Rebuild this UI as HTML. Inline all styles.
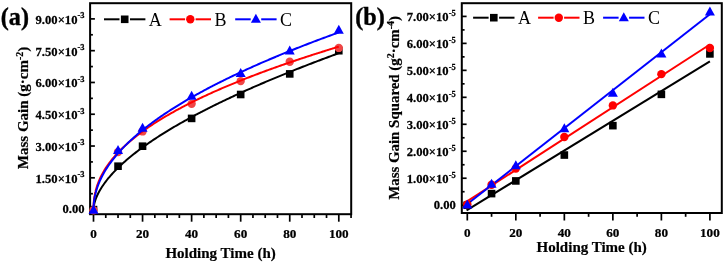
<!DOCTYPE html>
<html><head><meta charset="utf-8"><style>
html,body{margin:0;padding:0;background:#fff;}
svg{display:block;will-change:transform;}
</style></head><body>
<svg width="724" height="264" viewBox="0 0 724 264">
<rect width="724" height="264" fill="#fff"/>
<rect x="90.1" y="3.2" width="261.1" height="211.0" fill="none" stroke="#000" stroke-width="2.0"/>
<line x1="93.50" y1="214.2" x2="93.50" y2="221.7" stroke="#000" stroke-width="1.7"/>
<line x1="105.77" y1="214.2" x2="105.77" y2="218.0" stroke="#000" stroke-width="1.7"/>
<line x1="118.03" y1="214.2" x2="118.03" y2="218.0" stroke="#000" stroke-width="1.7"/>
<line x1="130.29" y1="214.2" x2="130.29" y2="218.0" stroke="#000" stroke-width="1.7"/>
<line x1="142.56" y1="214.2" x2="142.56" y2="221.7" stroke="#000" stroke-width="1.7"/>
<line x1="154.82" y1="214.2" x2="154.82" y2="218.0" stroke="#000" stroke-width="1.7"/>
<line x1="167.09" y1="214.2" x2="167.09" y2="218.0" stroke="#000" stroke-width="1.7"/>
<line x1="179.35" y1="214.2" x2="179.35" y2="218.0" stroke="#000" stroke-width="1.7"/>
<line x1="191.62" y1="214.2" x2="191.62" y2="221.7" stroke="#000" stroke-width="1.7"/>
<line x1="203.88" y1="214.2" x2="203.88" y2="218.0" stroke="#000" stroke-width="1.7"/>
<line x1="216.15" y1="214.2" x2="216.15" y2="218.0" stroke="#000" stroke-width="1.7"/>
<line x1="228.41" y1="214.2" x2="228.41" y2="218.0" stroke="#000" stroke-width="1.7"/>
<line x1="240.68" y1="214.2" x2="240.68" y2="221.7" stroke="#000" stroke-width="1.7"/>
<line x1="252.94" y1="214.2" x2="252.94" y2="218.0" stroke="#000" stroke-width="1.7"/>
<line x1="265.21" y1="214.2" x2="265.21" y2="218.0" stroke="#000" stroke-width="1.7"/>
<line x1="277.48" y1="214.2" x2="277.48" y2="218.0" stroke="#000" stroke-width="1.7"/>
<line x1="289.74" y1="214.2" x2="289.74" y2="221.7" stroke="#000" stroke-width="1.7"/>
<line x1="302.00" y1="214.2" x2="302.00" y2="218.0" stroke="#000" stroke-width="1.7"/>
<line x1="314.27" y1="214.2" x2="314.27" y2="218.0" stroke="#000" stroke-width="1.7"/>
<line x1="326.53" y1="214.2" x2="326.53" y2="218.0" stroke="#000" stroke-width="1.7"/>
<line x1="338.80" y1="214.2" x2="338.80" y2="221.7" stroke="#000" stroke-width="1.7"/>
<line x1="351.06" y1="214.2" x2="351.06" y2="218.0" stroke="#000" stroke-width="1.7"/>
<line x1="90.1" y1="209.60" x2="94.89999999999999" y2="209.60" stroke="#000" stroke-width="1.7"/>
<line x1="90.1" y1="193.71" x2="92.89999999999999" y2="193.71" stroke="#000" stroke-width="1.7"/>
<line x1="90.1" y1="177.81" x2="94.89999999999999" y2="177.81" stroke="#000" stroke-width="1.7"/>
<line x1="90.1" y1="161.92" x2="92.89999999999999" y2="161.92" stroke="#000" stroke-width="1.7"/>
<line x1="90.1" y1="146.03" x2="94.89999999999999" y2="146.03" stroke="#000" stroke-width="1.7"/>
<line x1="90.1" y1="130.14" x2="92.89999999999999" y2="130.14" stroke="#000" stroke-width="1.7"/>
<line x1="90.1" y1="114.24" x2="94.89999999999999" y2="114.24" stroke="#000" stroke-width="1.7"/>
<line x1="90.1" y1="98.35" x2="92.89999999999999" y2="98.35" stroke="#000" stroke-width="1.7"/>
<line x1="90.1" y1="82.46" x2="94.89999999999999" y2="82.46" stroke="#000" stroke-width="1.7"/>
<line x1="90.1" y1="66.57" x2="92.89999999999999" y2="66.57" stroke="#000" stroke-width="1.7"/>
<line x1="90.1" y1="50.67" x2="94.89999999999999" y2="50.67" stroke="#000" stroke-width="1.7"/>
<line x1="90.1" y1="34.78" x2="92.89999999999999" y2="34.78" stroke="#000" stroke-width="1.7"/>
<line x1="90.1" y1="18.89" x2="94.89999999999999" y2="18.89" stroke="#000" stroke-width="1.7"/>
<text transform="translate(93.50,238.20) scale(0.99,1)" text-anchor="middle" font-family="Liberation Serif" font-weight="bold" font-size="13.3" stroke="#000" stroke-width="0.25">0</text>
<text transform="translate(142.56,238.20) scale(0.99,1)" text-anchor="middle" font-family="Liberation Serif" font-weight="bold" font-size="13.3" stroke="#000" stroke-width="0.25">20</text>
<text transform="translate(191.62,238.20) scale(0.99,1)" text-anchor="middle" font-family="Liberation Serif" font-weight="bold" font-size="13.3" stroke="#000" stroke-width="0.25">40</text>
<text transform="translate(240.68,238.20) scale(0.99,1)" text-anchor="middle" font-family="Liberation Serif" font-weight="bold" font-size="13.3" stroke="#000" stroke-width="0.25">60</text>
<text transform="translate(289.74,238.20) scale(0.99,1)" text-anchor="middle" font-family="Liberation Serif" font-weight="bold" font-size="13.3" stroke="#000" stroke-width="0.25">80</text>
<text transform="translate(338.80,238.20) scale(0.99,1)" text-anchor="middle" font-family="Liberation Serif" font-weight="bold" font-size="13.3" stroke="#000" stroke-width="0.25">100</text>
<text transform="translate(84.60,213.30) scale(0.95,1)" text-anchor="end" font-family="Liberation Serif" font-weight="bold" font-size="13.3" stroke="#000" stroke-width="0.25">0.00</text>
<text transform="translate(84.60,182.72) scale(0.95,1)" text-anchor="end" font-family="Liberation Serif" font-weight="bold" font-size="13.3" stroke="#000" stroke-width="0.25">1.50×10<tspan dy="-5.6" font-size="9">-3</tspan></text>
<text transform="translate(84.60,150.93) scale(0.95,1)" text-anchor="end" font-family="Liberation Serif" font-weight="bold" font-size="13.3" stroke="#000" stroke-width="0.25">3.00×10<tspan dy="-5.6" font-size="9">-3</tspan></text>
<text transform="translate(84.60,119.14) scale(0.95,1)" text-anchor="end" font-family="Liberation Serif" font-weight="bold" font-size="13.3" stroke="#000" stroke-width="0.25">4.50×10<tspan dy="-5.6" font-size="9">-3</tspan></text>
<text transform="translate(84.60,87.36) scale(0.95,1)" text-anchor="end" font-family="Liberation Serif" font-weight="bold" font-size="13.3" stroke="#000" stroke-width="0.25">6.00×10<tspan dy="-5.6" font-size="9">-3</tspan></text>
<text transform="translate(84.60,55.57) scale(0.95,1)" text-anchor="end" font-family="Liberation Serif" font-weight="bold" font-size="13.3" stroke="#000" stroke-width="0.25">7.50×10<tspan dy="-5.6" font-size="9">-3</tspan></text>
<text transform="translate(84.60,23.79) scale(0.95,1)" text-anchor="end" font-family="Liberation Serif" font-weight="bold" font-size="13.3" stroke="#000" stroke-width="0.25">9.00×10<tspan dy="-5.6" font-size="9">-3</tspan></text>
<text x="220.6" y="258.3" text-anchor="middle" font-family="Liberation Serif" font-weight="bold" font-size="15" stroke="#000" stroke-width="0.2">Holding Time (h)</text>
<text transform="translate(27.9,107.9) rotate(-90)" x="0" y="0" text-anchor="middle" font-family="Liberation Serif" font-weight="bold" font-size="15" stroke="#000" stroke-width="0.2">Mass Gain (g·cm<tspan dy="-5" font-size="10">-2</tspan><tspan dy="5">)</tspan></text>
<text transform="translate(0.8,24.5) scale(0.93,1)" x="0" y="0" font-family="Liberation Serif" font-weight="bold" font-size="26" stroke="#000" stroke-width="0.4">(a)</text>
<rect x="89.70" y="205.80" width="7.6" height="7.6" fill="#000"/>
<rect x="114.23" y="162.40" width="7.6" height="7.6" fill="#000"/>
<rect x="138.76" y="142.40" width="7.6" height="7.6" fill="#000"/>
<rect x="187.82" y="114.60" width="7.6" height="7.6" fill="#000"/>
<rect x="236.88" y="90.70" width="7.6" height="7.6" fill="#000"/>
<rect x="285.94" y="70.10" width="7.6" height="7.6" fill="#000"/>
<rect x="335.00" y="46.92" width="7.6" height="7.6" fill="#000"/>
<polyline points="93.50,209.60 93.56,208.23 93.63,207.57 93.69,207.03 93.75,206.57 93.81,206.16 93.88,205.78 93.94,205.43 94.00,205.10 94.07,204.78 94.13,204.48 94.19,204.19 94.25,203.92 94.32,203.65 94.38,203.39 94.44,203.14 94.51,202.90 94.57,202.66 94.63,202.43 94.70,202.21 94.76,201.99 94.82,201.77 94.88,201.56 94.95,201.35 95.01,201.15 95.07,200.95 95.14,200.75 95.20,200.56 95.26,200.37 95.32,200.18 95.39,199.99 95.45,199.81 95.51,199.63 95.58,199.45 95.64,199.28 95.70,199.11 95.76,198.93 95.83,198.77 95.89,198.60 95.95,198.43 95.95,198.43 97.17,195.53 98.39,193.01 99.61,190.75 100.83,188.68 102.05,186.75 103.28,184.94 104.50,183.22 105.72,181.57 106.94,180.00 108.16,178.49 109.38,177.03 110.60,175.62 111.82,174.25 113.04,172.92 114.26,171.62 115.48,170.36 116.70,169.12 117.92,167.92 119.14,166.73 120.36,165.58 121.58,164.44 122.80,163.33 124.02,162.23 125.24,161.15 126.46,160.10 127.68,159.05 128.90,158.03 130.12,157.01 131.34,156.02 132.56,155.03 133.78,154.06 135.00,153.10 136.22,152.16 137.44,151.22 138.66,150.30 139.89,149.39 141.11,148.48 142.33,147.59 143.55,146.71 144.77,145.83 145.99,144.97 147.21,144.11 148.43,143.26 149.65,142.42 150.87,141.59 152.09,140.76 153.31,139.94 154.53,139.13 155.75,138.33 156.97,137.53 158.19,136.74 159.41,135.95 160.63,135.18 161.85,134.40 163.07,133.64 164.29,132.88 165.51,132.12 166.73,131.37 167.95,130.63 169.17,129.89 170.39,129.15 171.61,128.42 172.83,127.70 174.05,126.98 175.27,126.26 176.50,125.55 177.72,124.85 178.94,124.14 180.16,123.45 181.38,122.75 182.60,122.06 183.82,121.38 185.04,120.70 186.26,120.02 187.48,119.35 188.70,118.68 189.92,118.01 191.14,117.35 192.36,116.69 193.58,116.03 194.80,115.38 196.02,114.73 197.24,114.09 198.46,113.44 199.68,112.80 200.90,112.17 202.12,111.53 203.34,110.90 204.56,110.28 205.78,109.65 207.00,109.03 208.22,108.41 209.44,107.80 210.66,107.19 211.88,106.58 213.11,105.97 214.33,105.36 215.55,104.76 216.77,104.16 217.99,103.56 219.21,102.97 220.43,102.38 221.65,101.79 222.87,101.20 224.09,100.62 225.31,100.03 226.53,99.45 227.75,98.88 228.97,98.30 230.19,97.73 231.41,97.15 232.63,96.59 233.85,96.02 235.07,95.45 236.29,94.89 237.51,94.33 238.73,93.77 239.95,93.21 241.17,92.66 242.39,92.11 243.61,91.55 244.83,91.01 246.05,90.46 247.27,89.91 248.50,89.37 249.72,88.83 250.94,88.29 252.16,87.75 253.38,87.21 254.60,86.68 255.82,86.15 257.04,85.61 258.26,85.08 259.48,84.56 260.70,84.03 261.92,83.51 263.14,82.98 264.36,82.46 265.58,81.94 266.80,81.42 268.02,80.91 269.24,80.39 270.46,79.88 271.68,79.37 272.90,78.86 274.12,78.35 275.34,77.84 276.56,77.33 277.78,76.83 279.00,76.33 280.22,75.82 281.44,75.32 282.66,74.82 283.88,74.33 285.11,73.83 286.33,73.34 287.55,72.84 288.77,72.35 289.99,71.86 291.21,71.37 292.43,70.88 293.65,70.39 294.87,69.91 296.09,69.42 297.31,68.94 298.53,68.46 299.75,67.98 300.97,67.50 302.19,67.02 303.41,66.54 304.63,66.06 305.85,65.59 307.07,65.12 308.29,64.64 309.51,64.17 310.73,63.70 311.95,63.23 313.17,62.76 314.39,62.30 315.61,61.83 316.83,61.37 318.05,60.90 319.27,60.44 320.49,59.98 321.72,59.52 322.94,59.06 324.16,58.60 325.38,58.14 326.60,57.69 327.82,57.23 329.04,56.78 330.26,56.32 331.48,55.87 332.70,55.42 333.92,54.97 335.14,54.52 336.36,54.07 337.58,53.62 338.80,53.18" fill="none" stroke="#000" stroke-width="2"/>
<circle cx="93.50" cy="210.24" r="4.2" fill="#ef4646"/>
<circle cx="118.03" cy="152.09" r="4.2" fill="#ef4646"/>
<circle cx="142.56" cy="131.41" r="4.2" fill="#ef4646"/>
<circle cx="191.62" cy="103.86" r="4.2" fill="#ef4646"/>
<circle cx="240.68" cy="81.10" r="4.2" fill="#ef4646"/>
<circle cx="289.74" cy="61.69" r="4.2" fill="#ef4646"/>
<circle cx="338.80" cy="47.92" r="4.2" fill="#ef4646"/>
<polyline points="93.50,209.60 93.56,205.86 93.63,204.46 93.69,203.42 93.75,202.55 93.81,201.80 93.88,201.12 93.94,200.50 94.00,199.93 94.07,199.40 94.13,198.90 94.19,198.42 94.25,197.97 94.32,197.53 94.38,197.12 94.44,196.72 94.51,196.33 94.57,195.96 94.63,195.60 94.70,195.25 94.76,194.91 94.82,194.58 94.88,194.26 94.95,193.94 95.01,193.64 95.07,193.34 95.14,193.04 95.20,192.76 95.26,192.47 95.32,192.20 95.39,191.93 95.45,191.66 95.51,191.40 95.58,191.14 95.64,190.89 95.70,190.64 95.76,190.39 95.83,190.15 95.89,189.91 95.95,189.68 95.95,189.68 97.17,185.65 98.39,182.30 99.61,179.38 100.83,176.76 102.05,174.37 103.28,172.16 104.50,170.10 105.72,168.15 106.94,166.31 108.16,164.56 109.38,162.89 110.60,161.28 111.82,159.74 113.04,158.25 114.26,156.81 115.48,155.41 116.70,154.06 117.92,152.74 119.14,151.47 120.36,150.22 121.58,149.00 122.80,147.81 124.02,146.65 125.24,145.52 126.46,144.40 127.68,143.31 128.90,142.24 130.12,141.19 131.34,140.16 132.56,139.15 133.78,138.15 135.00,137.17 136.22,136.21 137.44,135.26 138.66,134.33 139.89,133.40 141.11,132.50 142.33,131.60 143.55,130.72 144.77,129.84 145.99,128.98 147.21,128.13 148.43,127.29 149.65,126.46 150.87,125.64 152.09,124.83 153.31,124.03 154.53,123.24 155.75,122.46 156.97,121.68 158.19,120.91 159.41,120.15 160.63,119.40 161.85,118.66 163.07,117.92 164.29,117.19 165.51,116.47 166.73,115.75 167.95,115.04 169.17,114.33 170.39,113.64 171.61,112.94 172.83,112.26 174.05,111.58 175.27,110.90 176.50,110.23 177.72,109.57 178.94,108.91 180.16,108.26 181.38,107.61 182.60,106.96 183.82,106.32 185.04,105.69 186.26,105.06 187.48,104.43 188.70,103.81 189.92,103.20 191.14,102.58 192.36,101.98 193.58,101.37 194.80,100.77 196.02,100.18 197.24,99.58 198.46,98.99 199.68,98.41 200.90,97.83 202.12,97.25 203.34,96.68 204.56,96.11 205.78,95.54 207.00,94.97 208.22,94.41 209.44,93.86 210.66,93.30 211.88,92.75 213.11,92.20 214.33,91.66 215.55,91.11 216.77,90.58 217.99,90.04 219.21,89.51 220.43,88.97 221.65,88.45 222.87,87.92 224.09,87.40 225.31,86.88 226.53,86.36 227.75,85.85 228.97,85.34 230.19,84.83 231.41,84.32 232.63,83.81 233.85,83.31 235.07,82.81 236.29,82.31 237.51,81.82 238.73,81.33 239.95,80.84 241.17,80.35 242.39,79.86 243.61,79.38 244.83,78.89 246.05,78.41 247.27,77.94 248.50,77.46 249.72,76.99 250.94,76.52 252.16,76.05 253.38,75.58 254.60,75.11 255.82,74.65 257.04,74.19 258.26,73.73 259.48,73.27 260.70,72.81 261.92,72.36 263.14,71.90 264.36,71.45 265.58,71.00 266.80,70.55 268.02,70.11 269.24,69.66 270.46,69.22 271.68,68.78 272.90,68.34 274.12,67.90 275.34,67.47 276.56,67.03 277.78,66.60 279.00,66.17 280.22,65.74 281.44,65.31 282.66,64.88 283.88,64.46 285.11,64.04 286.33,63.61 287.55,63.19 288.77,62.77 289.99,62.35 291.21,61.94 292.43,61.52 293.65,61.11 294.87,60.70 296.09,60.28 297.31,59.88 298.53,59.47 299.75,59.06 300.97,58.65 302.19,58.25 303.41,57.85 304.63,57.44 305.85,57.04 307.07,56.64 308.29,56.25 309.51,55.85 310.73,55.45 311.95,55.06 313.17,54.66 314.39,54.27 315.61,53.88 316.83,53.49 318.05,53.10 319.27,52.72 320.49,52.33 321.72,51.94 322.94,51.56 324.16,51.18 325.38,50.79 326.60,50.41 327.82,50.03 329.04,49.66 330.26,49.28 331.48,48.90 332.70,48.53 333.92,48.15 335.14,47.78 336.36,47.41 337.58,47.03 338.80,46.66" fill="none" stroke="#ff0000" stroke-width="2"/>
<path d="M93.50,204.68 L98.50,213.68 L88.50,213.68 Z" fill="#0000ff"/>
<path d="M118.03,145.05 L123.03,154.05 L113.03,154.05 Z" fill="#0000ff"/>
<path d="M142.56,122.82 L147.56,131.82 L137.56,131.82 Z" fill="#0000ff"/>
<path d="M191.62,90.67 L196.62,99.67 L186.62,99.67 Z" fill="#0000ff"/>
<path d="M240.68,67.89 L245.68,76.89 L235.68,76.89 Z" fill="#0000ff"/>
<path d="M289.74,45.54 L294.74,54.54 L284.74,54.54 Z" fill="#0000ff"/>
<path d="M338.80,24.77 L343.80,33.77 L333.80,33.77 Z" fill="#0000ff"/>
<polyline points="93.50,209.60 93.56,206.72 93.63,205.53 93.69,204.62 93.75,203.85 93.81,203.18 93.88,202.56 93.94,202.00 94.00,201.48 94.07,200.99 94.13,200.53 94.19,200.08 94.25,199.66 94.32,199.26 94.38,198.87 94.44,198.50 94.51,198.13 94.57,197.78 94.63,197.44 94.70,197.11 94.76,196.78 94.82,196.47 94.88,196.16 94.95,195.86 95.01,195.57 95.07,195.28 95.14,194.99 95.20,194.72 95.26,194.45 95.32,194.18 95.39,193.92 95.45,193.66 95.51,193.40 95.58,193.15 95.64,192.91 95.70,192.66 95.76,192.42 95.83,192.19 95.89,191.96 95.95,191.73 95.95,191.73 97.17,187.74 98.39,184.39 99.61,181.43 100.83,178.76 102.05,176.30 103.28,174.01 104.50,171.87 105.72,169.83 106.94,167.90 108.16,166.06 109.38,164.29 110.60,162.59 111.82,160.94 113.04,159.36 114.26,157.82 115.48,156.32 116.70,154.87 117.92,153.45 119.14,152.07 120.36,150.72 121.58,149.41 122.80,148.12 124.02,146.85 125.24,145.62 126.46,144.40 127.68,143.21 128.90,142.04 130.12,140.89 131.34,139.76 132.56,138.65 133.78,137.55 135.00,136.47 136.22,135.41 137.44,134.36 138.66,133.33 139.89,132.31 141.11,131.30 142.33,130.31 143.55,129.33 144.77,128.36 145.99,127.40 147.21,126.45 148.43,125.52 149.65,124.59 150.87,123.68 152.09,122.77 153.31,121.88 154.53,120.99 155.75,120.11 156.97,119.24 158.19,118.38 159.41,117.53 160.63,116.68 161.85,115.84 163.07,115.01 164.29,114.19 165.51,113.38 166.73,112.57 167.95,111.77 169.17,110.97 170.39,110.18 171.61,109.40 172.83,108.62 174.05,107.85 175.27,107.09 176.50,106.33 177.72,105.57 178.94,104.82 180.16,104.08 181.38,103.34 182.60,102.61 183.82,101.88 185.04,101.16 186.26,100.44 187.48,99.73 188.70,99.02 189.92,98.32 191.14,97.62 192.36,96.93 193.58,96.23 194.80,95.55 196.02,94.87 197.24,94.19 198.46,93.51 199.68,92.84 200.90,92.18 202.12,91.51 203.34,90.85 204.56,90.20 205.78,89.55 207.00,88.90 208.22,88.26 209.44,87.61 210.66,86.98 211.88,86.34 213.11,85.71 214.33,85.08 215.55,84.46 216.77,83.84 217.99,83.22 219.21,82.60 220.43,81.99 221.65,81.38 222.87,80.77 224.09,80.17 225.31,79.57 226.53,78.97 227.75,78.37 228.97,77.78 230.19,77.19 231.41,76.60 232.63,76.02 233.85,75.44 235.07,74.86 236.29,74.28 237.51,73.70 238.73,73.13 239.95,72.56 241.17,71.99 242.39,71.43 243.61,70.87 244.83,70.31 246.05,69.75 247.27,69.19 248.50,68.64 249.72,68.09 250.94,67.54 252.16,66.99 253.38,66.44 254.60,65.90 255.82,65.36 257.04,64.82 258.26,64.28 259.48,63.75 260.70,63.21 261.92,62.68 263.14,62.15 264.36,61.63 265.58,61.10 266.80,60.58 268.02,60.06 269.24,59.54 270.46,59.02 271.68,58.50 272.90,57.99 274.12,57.47 275.34,56.96 276.56,56.45 277.78,55.95 279.00,55.44 280.22,54.93 281.44,54.43 282.66,53.93 283.88,53.43 285.11,52.93 286.33,52.44 287.55,51.94 288.77,51.45 289.99,50.96 291.21,50.47 292.43,49.98 293.65,49.49 294.87,49.01 296.09,48.52 297.31,48.04 298.53,47.56 299.75,47.08 300.97,46.60 302.19,46.12 303.41,45.65 304.63,45.18 305.85,44.70 307.07,44.23 308.29,43.76 309.51,43.29 310.73,42.83 311.95,42.36 313.17,41.89 314.39,41.43 315.61,40.97 316.83,40.51 318.05,40.05 319.27,39.59 320.49,39.13 321.72,38.68 322.94,38.22 324.16,37.77 325.38,37.32 326.60,36.87 327.82,36.42 329.04,35.97 330.26,35.52 331.48,35.07 332.70,34.63 333.92,34.18 335.14,33.74 336.36,33.30 337.58,32.86 338.80,32.42" fill="none" stroke="#0000ff" stroke-width="2"/>
<line x1="104.0" y1="19.3" x2="119.5" y2="19.3" stroke="#000" stroke-width="2"/>
<line x1="130.0" y1="19.3" x2="145.4" y2="19.3" stroke="#000" stroke-width="2"/>
<rect x="120.90" y="15.50" width="7.6" height="7.6" fill="#000"/>
<text x="148.8" y="25.8" font-family="Liberation Serif" font-size="18">A</text>
<line x1="169.6" y1="19.3" x2="185.1" y2="19.3" stroke="#ff0000" stroke-width="2"/>
<line x1="195.6" y1="19.3" x2="211.0" y2="19.3" stroke="#ff0000" stroke-width="2"/>
<circle cx="190.30" cy="19.30" r="4.2" fill="#ff0000"/>
<text x="214.39999999999998" y="25.8" font-family="Liberation Serif" font-size="18">B</text>
<line x1="235.2" y1="19.3" x2="250.7" y2="19.3" stroke="#0000ff" stroke-width="2"/>
<line x1="261.2" y1="19.3" x2="276.59999999999997" y2="19.3" stroke="#0000ff" stroke-width="2"/>
<path d="M255.90,13.80 L260.90,22.80 L250.90,22.80 Z" fill="#0000ff"/>
<text x="280.0" y="25.8" font-family="Liberation Serif" font-size="18">C</text>
<rect x="461.8" y="3.2" width="259.99999999999994" height="209.8" fill="none" stroke="#000" stroke-width="2.0"/>
<line x1="467.30" y1="213.0" x2="467.30" y2="220.5" stroke="#000" stroke-width="1.7"/>
<line x1="491.56" y1="213.0" x2="491.56" y2="216.8" stroke="#000" stroke-width="1.7"/>
<line x1="515.82" y1="213.0" x2="515.82" y2="220.5" stroke="#000" stroke-width="1.7"/>
<line x1="540.08" y1="213.0" x2="540.08" y2="216.8" stroke="#000" stroke-width="1.7"/>
<line x1="564.34" y1="213.0" x2="564.34" y2="220.5" stroke="#000" stroke-width="1.7"/>
<line x1="588.60" y1="213.0" x2="588.60" y2="216.8" stroke="#000" stroke-width="1.7"/>
<line x1="612.86" y1="213.0" x2="612.86" y2="220.5" stroke="#000" stroke-width="1.7"/>
<line x1="637.12" y1="213.0" x2="637.12" y2="216.8" stroke="#000" stroke-width="1.7"/>
<line x1="661.38" y1="213.0" x2="661.38" y2="220.5" stroke="#000" stroke-width="1.7"/>
<line x1="685.64" y1="213.0" x2="685.64" y2="216.8" stroke="#000" stroke-width="1.7"/>
<line x1="709.90" y1="213.0" x2="709.90" y2="220.5" stroke="#000" stroke-width="1.7"/>
<line x1="461.8" y1="205.20" x2="466.6" y2="205.20" stroke="#000" stroke-width="1.7"/>
<line x1="461.8" y1="191.71" x2="464.6" y2="191.71" stroke="#000" stroke-width="1.7"/>
<line x1="461.8" y1="178.23" x2="466.6" y2="178.23" stroke="#000" stroke-width="1.7"/>
<line x1="461.8" y1="164.75" x2="464.6" y2="164.75" stroke="#000" stroke-width="1.7"/>
<line x1="461.8" y1="151.26" x2="466.6" y2="151.26" stroke="#000" stroke-width="1.7"/>
<line x1="461.8" y1="137.77" x2="464.6" y2="137.77" stroke="#000" stroke-width="1.7"/>
<line x1="461.8" y1="124.29" x2="466.6" y2="124.29" stroke="#000" stroke-width="1.7"/>
<line x1="461.8" y1="110.80" x2="464.6" y2="110.80" stroke="#000" stroke-width="1.7"/>
<line x1="461.8" y1="97.32" x2="466.6" y2="97.32" stroke="#000" stroke-width="1.7"/>
<line x1="461.8" y1="83.83" x2="464.6" y2="83.83" stroke="#000" stroke-width="1.7"/>
<line x1="461.8" y1="70.35" x2="466.6" y2="70.35" stroke="#000" stroke-width="1.7"/>
<line x1="461.8" y1="56.87" x2="464.6" y2="56.87" stroke="#000" stroke-width="1.7"/>
<line x1="461.8" y1="43.38" x2="466.6" y2="43.38" stroke="#000" stroke-width="1.7"/>
<line x1="461.8" y1="29.89" x2="464.6" y2="29.89" stroke="#000" stroke-width="1.7"/>
<line x1="461.8" y1="16.41" x2="466.6" y2="16.41" stroke="#000" stroke-width="1.7"/>
<text transform="translate(467.30,237.30) scale(0.99,1)" text-anchor="middle" font-family="Liberation Serif" font-weight="bold" font-size="13.3" stroke="#000" stroke-width="0.25">0</text>
<text transform="translate(515.82,237.30) scale(0.99,1)" text-anchor="middle" font-family="Liberation Serif" font-weight="bold" font-size="13.3" stroke="#000" stroke-width="0.25">20</text>
<text transform="translate(564.34,237.30) scale(0.99,1)" text-anchor="middle" font-family="Liberation Serif" font-weight="bold" font-size="13.3" stroke="#000" stroke-width="0.25">40</text>
<text transform="translate(612.86,237.30) scale(0.99,1)" text-anchor="middle" font-family="Liberation Serif" font-weight="bold" font-size="13.3" stroke="#000" stroke-width="0.25">60</text>
<text transform="translate(661.38,237.30) scale(0.99,1)" text-anchor="middle" font-family="Liberation Serif" font-weight="bold" font-size="13.3" stroke="#000" stroke-width="0.25">80</text>
<text transform="translate(709.90,237.30) scale(0.99,1)" text-anchor="middle" font-family="Liberation Serif" font-weight="bold" font-size="13.3" stroke="#000" stroke-width="0.25">100</text>
<text transform="translate(455.80,208.70) scale(0.95,1)" text-anchor="end" font-family="Liberation Serif" font-weight="bold" font-size="13.3" stroke="#000" stroke-width="0.25">0.00</text>
<text transform="translate(455.80,183.13) scale(0.95,1)" text-anchor="end" font-family="Liberation Serif" font-weight="bold" font-size="13.3" stroke="#000" stroke-width="0.25">1.00×10<tspan dy="-5.6" font-size="9">-5</tspan></text>
<text transform="translate(455.80,156.16) scale(0.95,1)" text-anchor="end" font-family="Liberation Serif" font-weight="bold" font-size="13.3" stroke="#000" stroke-width="0.25">2.00×10<tspan dy="-5.6" font-size="9">-5</tspan></text>
<text transform="translate(455.80,129.19) scale(0.95,1)" text-anchor="end" font-family="Liberation Serif" font-weight="bold" font-size="13.3" stroke="#000" stroke-width="0.25">3.00×10<tspan dy="-5.6" font-size="9">-5</tspan></text>
<text transform="translate(455.80,102.22) scale(0.95,1)" text-anchor="end" font-family="Liberation Serif" font-weight="bold" font-size="13.3" stroke="#000" stroke-width="0.25">4.00×10<tspan dy="-5.6" font-size="9">-5</tspan></text>
<text transform="translate(455.80,75.25) scale(0.95,1)" text-anchor="end" font-family="Liberation Serif" font-weight="bold" font-size="13.3" stroke="#000" stroke-width="0.25">5.00×10<tspan dy="-5.6" font-size="9">-5</tspan></text>
<text transform="translate(455.80,48.28) scale(0.95,1)" text-anchor="end" font-family="Liberation Serif" font-weight="bold" font-size="13.3" stroke="#000" stroke-width="0.25">6.00×10<tspan dy="-5.6" font-size="9">-5</tspan></text>
<text transform="translate(455.80,21.31) scale(0.95,1)" text-anchor="end" font-family="Liberation Serif" font-weight="bold" font-size="13.3" stroke="#000" stroke-width="0.25">7.00×10<tspan dy="-5.6" font-size="9">-5</tspan></text>
<text x="591.7" y="252.1" text-anchor="middle" font-family="Liberation Serif" font-weight="bold" font-size="15" stroke="#000" stroke-width="0.2">Holding Time (h)</text>
<text transform="translate(398.8,107.9) rotate(-90)" x="0" y="0" text-anchor="middle" font-family="Liberation Serif" font-weight="bold" font-size="14.9" stroke="#000" stroke-width="0.2">Mass Gain Squared (g<tspan dy="-5" font-size="10">2</tspan><tspan dy="5">·cm</tspan><tspan dy="-5" font-size="10">-4</tspan><tspan dy="5">)</tspan></text>
<text transform="translate(355.3,24.5) scale(0.93,1)" x="0" y="0" font-family="Liberation Serif" font-weight="bold" font-size="26" stroke="#000" stroke-width="0.4">(b)</text>
<clipPath id="cb"><rect x="462.8" y="4.2" width="257.99999999999994" height="207.8"/></clipPath>
<line x1="466.57" y1="210.33" x2="709.90" y2="61.32" stroke="#000" stroke-width="2" clip-path="url(#cb)"/>
<line x1="463.18" y1="203.94" x2="709.90" y2="44.5" stroke="#ff0000" stroke-width="2" clip-path="url(#cb)"/>
<line x1="463.18" y1="207.31" x2="709.90" y2="14.3" stroke="#0000ff" stroke-width="2" clip-path="url(#cb)"/>
<rect x="463.50" y="201.40" width="7.6" height="7.6" fill="#000"/>
<rect x="487.76" y="189.80" width="7.6" height="7.6" fill="#000"/>
<rect x="512.02" y="177.13" width="7.6" height="7.6" fill="#000"/>
<rect x="560.54" y="151.24" width="7.6" height="7.6" fill="#000"/>
<rect x="609.06" y="121.84" width="7.6" height="7.6" fill="#000"/>
<rect x="657.58" y="90.55" width="7.6" height="7.6" fill="#000"/>
<rect x="706.10" y="50.10" width="7.6" height="7.6" fill="#000"/>
<circle cx="467.30" cy="204.39" r="4.2" fill="#ff0000"/>
<circle cx="491.56" cy="184.70" r="4.2" fill="#ff0000"/>
<circle cx="515.82" cy="168.52" r="4.2" fill="#ff0000"/>
<circle cx="564.34" cy="136.97" r="4.2" fill="#ff0000"/>
<circle cx="612.86" cy="105.41" r="4.2" fill="#ff0000"/>
<circle cx="661.38" cy="74.13" r="4.2" fill="#ff0000"/>
<circle cx="709.90" cy="47.96" r="4.2" fill="#ff0000"/>
<path d="M467.30,199.49 L472.30,208.49 L462.30,208.49 Z" fill="#0000ff"/>
<path d="M491.56,178.85 L496.56,187.85 L486.56,187.85 Z" fill="#0000ff"/>
<path d="M515.82,160.25 L520.82,169.25 L510.82,169.25 Z" fill="#0000ff"/>
<path d="M564.34,123.30 L569.34,132.30 L559.34,132.30 Z" fill="#0000ff"/>
<path d="M612.86,87.70 L617.86,96.70 L607.86,96.70 Z" fill="#0000ff"/>
<path d="M661.38,48.59 L666.38,57.59 L656.38,57.59 Z" fill="#0000ff"/>
<path d="M709.90,6.52 L714.90,15.52 L704.90,15.52 Z" fill="#0000ff"/>
<line x1="473.1" y1="17.7" x2="488.6" y2="17.7" stroke="#000" stroke-width="2"/>
<line x1="499.1" y1="17.7" x2="514.5" y2="17.7" stroke="#000" stroke-width="2"/>
<rect x="490.00" y="13.90" width="7.6" height="7.6" fill="#000"/>
<text x="517.9" y="23.8" font-family="Liberation Serif" font-size="18">A</text>
<line x1="538.1" y1="17.7" x2="553.6" y2="17.7" stroke="#ff0000" stroke-width="2"/>
<line x1="564.1" y1="17.7" x2="579.5" y2="17.7" stroke="#ff0000" stroke-width="2"/>
<circle cx="558.80" cy="17.70" r="4.2" fill="#ff0000"/>
<text x="582.9" y="23.8" font-family="Liberation Serif" font-size="18">B</text>
<line x1="603.1" y1="17.7" x2="618.6" y2="17.7" stroke="#0000ff" stroke-width="2"/>
<line x1="629.1" y1="17.7" x2="644.5" y2="17.7" stroke="#0000ff" stroke-width="2"/>
<path d="M623.80,12.20 L628.80,21.20 L618.80,21.20 Z" fill="#0000ff"/>
<text x="647.9" y="23.8" font-family="Liberation Serif" font-size="18">C</text>
</svg>
</body></html>
